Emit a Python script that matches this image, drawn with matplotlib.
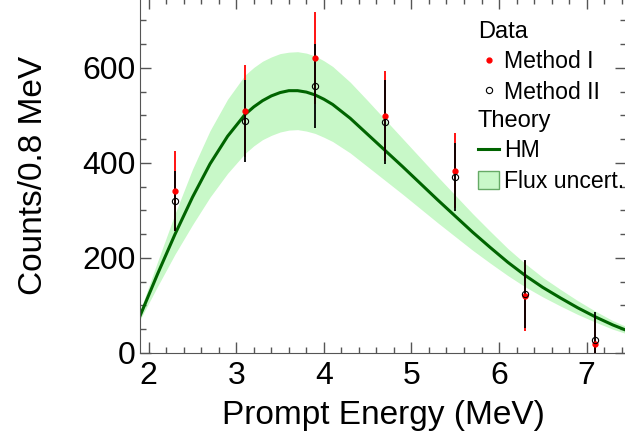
import numpy as np
import matplotlib
matplotlib.use("Agg")
import matplotlib.pyplot as plt
from matplotlib.lines import Line2D
from matplotlib.patches import Patch

plt.rcParams['font.family'] = ['Liberation Sans', 'DejaVu Sans']

# DATA
energy = [2.3, 3.1, 3.9, 4.7, 5.5, 6.3, 7.1]
method1 = [341, 509, 621, 499, 384, 120, 18]
method1_err = [84, 97, 96, 95, 78, 74, 55]
method2 = [320, 488, 562, 486, 370, 124, 27]
method2_err = [63, 86, 88, 88, 71, 72, 60]

# HM prediction and flux uncertainty band
hm_energy = [1.9, 2.1, 2.3, 2.5, 2.7, 2.9, 3.1, 3.2, 3.3, 3.4, 3.5, 3.6, 3.7, 3.8,
             3.9, 4.0, 4.1, 4.3, 4.5, 4.7, 4.9, 5.1, 5.3, 5.5, 5.7, 5.9, 6.1, 6.3,
             6.5, 6.7, 6.9, 7.1, 7.3, 7.45]
hm = [78, 166, 250, 328, 398, 456, 502, 518, 531, 541, 548, 552, 552, 549,
      543, 534, 523, 494, 460, 426, 392, 357, 322, 288, 254, 222, 191, 163,
      138, 116, 95, 76, 59, 48]
hm_up = [88, 192, 293, 387, 468, 534, 585, 601, 614, 623, 630, 633, 634, 631,
         625, 615, 603, 570, 531, 491, 451, 411, 371, 332, 293, 256, 220, 188,
         159, 134, 110, 88, 68, 56]
hm_lo = [70, 140, 208, 270, 328, 378, 420, 436, 449, 458, 465, 469, 470, 467,
         462, 454, 445, 421, 392, 363, 334, 304, 274, 245, 216, 189, 163, 139,
         118, 99, 81, 65, 50, 41]

band_color = '#c8f8c8'
line_color = '#006400'

# FIGURE
fig = plt.figure(figsize=(6.25, 4.41), dpi=100)
ax = fig.add_axes([140 / 625, 88 / 441, 486 / 625, 355 / 441])

ax.fill_between(hm_energy, hm_lo, hm_up, color=band_color, lw=0, zorder=1)
ax.plot(hm_energy, hm, color=line_color, lw=2.2, zorder=2,
        solid_joinstyle='round')

ax.errorbar(energy, method1, yerr=method1_err, fmt='none', ecolor='red',
            elinewidth=1.3, capsize=0, zorder=3)
ax.errorbar(energy, method2, yerr=method2_err, fmt='none', ecolor='black',
            elinewidth=1.3, capsize=0, zorder=4)
ax.plot(energy, method1, 'o', color='red', ms=3.5, mec='red', zorder=5)
ax.plot(energy, method2, 'o', mfc='none', mec='black', ms=4.5, mew=0.8, zorder=6)

ax.set_xlim(1.9, 7.45)
ax.set_ylim(0, 747)
ax.set_xticks([2, 3, 4, 5, 6, 7])
ax.set_xticks(np.arange(2.0, 7.45, 0.2), minor=True)
ax.set_yticks([0, 200, 400, 600])
ax.set_yticks(np.arange(0, 747, 50), minor=True)
ax.tick_params(which='both', direction='in', top=True, right=True,
               color='#555555', labelsize=23)
ax.tick_params(which='major', length=8, width=1)
ax.tick_params(which='minor', length=4, width=1)
ax.tick_params(axis='x', pad=6)
ax.tick_params(axis='y', pad=3)
for s in ax.spines.values():
    s.set_color('#555555')

ax.set_xlabel('Prompt Energy (MeV)', fontsize=24, labelpad=6)
ax.set_ylabel('Counts/0.8 MeV', fontsize=24, labelpad=24)

# LEGEND (two blocks, ROOT style headers)
data_handles = [
    Line2D([], [], ls='none', marker='o', color='red', ms=3.5),
    Line2D([], [], ls='none', marker='o', mfc='none', mec='black', ms=4.5, mew=0.8),
]
theory_handles = [
    Line2D([], [], color=line_color, lw=2.2),
    Patch(facecolor=band_color, edgecolor='#66aa66', lw=1),
]
leg_kw = dict(loc='upper left', frameon=False, fontsize=16.6, title_fontsize=17,
              borderpad=0, borderaxespad=0, handlelength=0.92, handleheight=0.82,
              handletextpad=0.2, labelspacing=0.32, alignment='left',
              bbox_transform=fig.transFigure)
leg1 = ax.legend(data_handles, ['Method I', 'Method II'], title='Data',
                 bbox_to_anchor=(478 / 625, 1 - 21 / 441), **leg_kw)
ax.add_artist(leg1)
ax.legend(theory_handles, ['HM', 'Flux uncert.'], title='Theory',
          bbox_to_anchor=(478 / 625, 1 - 110 / 441), **leg_kw)

fig.savefig('out.png', dpi=100)
